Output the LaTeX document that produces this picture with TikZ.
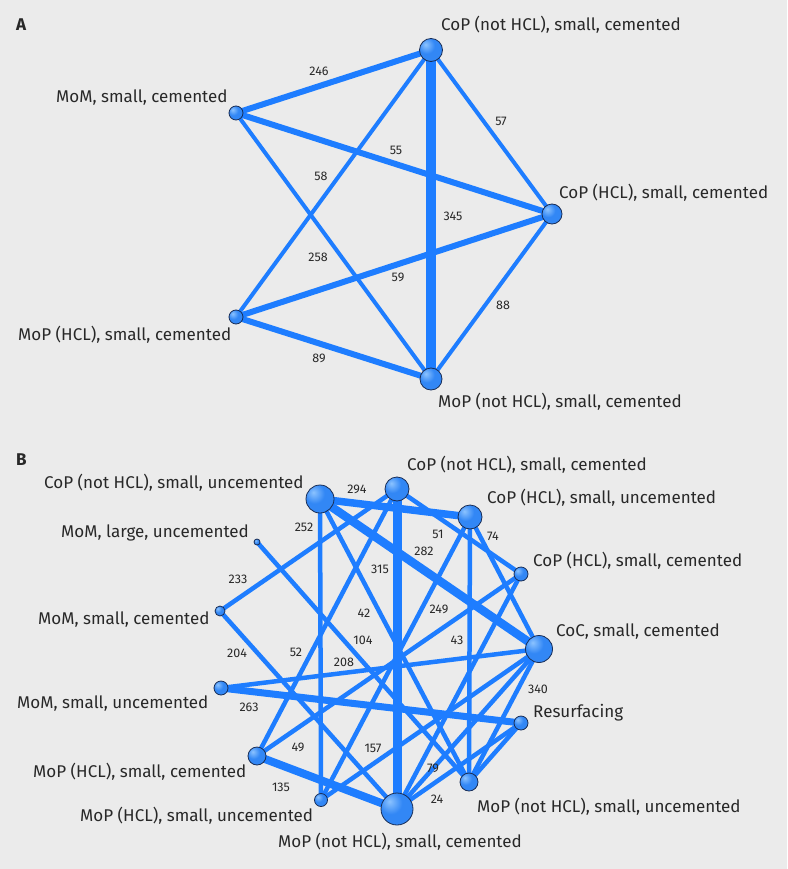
\documentclass[tikz,border=0pt]{standalone}
\usepackage{fontspec}
\setmainfont{Fira Sans}
\definecolor{bg}{RGB}{235,235,235}
\definecolor{edgeblue}{RGB}{30,125,255}
\definecolor{nodein}{RGB}{140,195,255}
\definecolor{nodeout}{RGB}{50,135,245}
\definecolor{nodedark}{RGB}{35,110,225}
\definecolor{nodeline}{RGB}{25,45,85}
\definecolor{txt}{RGB}{40,40,40}
\pgfdeclareradialshading{nodeball}{\pgfpoint{-12bp}{12bp}}{%
  color(0bp)=(nodein); color(18bp)=(nodeout); color(45bp)=(nodeout); color(70bp)=(nodedark); color(100bp)=(nodedark)}
\tikzset{
  nd/.style={circle, inner sep=0pt, minimum size=#1, shading=nodeball, draw=nodeline, line width=0.8pt},
  ed/.style={draw=edgeblue, line width=#1},
  lab/.style={font=\fontsize{17}{20}\selectfont, text=txt, inner sep=0pt, anchor=west},
  num/.style={font=\fontsize{12.5}{15}\selectfont, text=txt, inner sep=0pt},
  panel/.style={font=\bfseries\fontsize{17}{20}\selectfont, text=txt, inner sep=0pt, anchor=west},
}
\begin{document}
\begin{tikzpicture}[x=1pt,y=-1pt]
\fill[bg] (0,0) rectangle (787,869);
\useasboundingbox (0,0) rectangle (787,869);

% ---------------- Panel A ----------------
\node[panel] (pA) at (16,25) {A};
\coordinate (a1) at (431,50);
\coordinate (a2) at (236,113);
\coordinate (a3) at (552,214);
\coordinate (a4) at (236,317);
\coordinate (a5) at (431,379);
\draw[ed=6] (a2) -- (a1);
\draw[ed=6] (a2) -- (a3);
\draw[ed=4] (a2) -- (a5);
\draw[ed=4] (a4) -- (a1);
\draw[ed=6] (a4) -- (a3);
\draw[ed=6] (a4) -- (a5);
\draw[ed=4] (a1) -- (a3);
\draw[ed=10] (a1) -- (a5);
\draw[ed=4] (a3) -- (a5);
\node[nd=23] (A1) at (a1) {};
\node[nd=14] (A2) at (a2) {};
\node[nd=20] (A3) at (a3) {};
\node[nd=14] (A4) at (a4) {};
\node[nd=22] (A5) at (a5) {};
\node[lab] (tA1) at (441,25) {CoP (not HCL), small, cemented};
\node[lab] (tA2) at (56,98) {MoM, small, cemented};
\node[lab] (tA3) at (559,193) {CoP (HCL), small, cemented};
\node[lab] (tA4) at (18,335) {MoP (HCL), small, cemented};
\node[lab] (tA5) at (438,402) {MoP (not HCL), small, cemented};
\node[num] (nA1) at (319,71) {246};
\node[num] (nA2) at (501,121) {57};
\node[num] (nA3) at (396,150) {55};
\node[num] (nA4) at (321,176) {58};
\node[num] (nA5) at (453,216) {345};
\node[num] (nA6) at (318,257) {258};
\node[num] (nA7) at (398,277) {59};
\node[num] (nA8) at (503,305) {88};
\node[num] (nA9) at (319,358) {89};

% ---------------- Panel B ----------------
\node[panel] (pB) at (16,460) {B};
\coordinate (cpnhu) at (320,499);
\coordinate (cpnhc) at (397,489);
\coordinate (cphu) at (470,517);
\coordinate (cphc) at (521,574);
\coordinate (coc) at (539,649);
\coordinate (res) at (521,723);
\coordinate (mpnhu) at (469,782);
\coordinate (mpnhc) at (397,809);
\coordinate (mphu) at (321,800);
\coordinate (mphc) at (257,756);
\coordinate (mmsu) at (221,688);
\coordinate (mmsc) at (220,611);
\coordinate (mmlu) at (257,542);

\draw[ed=4.5] (cpnhu) -- (mphu);
\draw[ed=4.5] (cpnhu) -- (mpnhu);
\draw[ed=4.5] (cpnhc) -- (mmsc);
\draw[ed=4.5] (cpnhc) -- (cphc);
\draw[ed=4.5] (cpnhc) -- (mphc);
\draw[ed=4.5] (cphu) -- (mpnhu);
\draw[ed=4.5] (cphu) -- (coc);
\draw[ed=4.5] (cphu) -- (mphu);
\draw[ed=4.5] (cphc) -- (mphc);
\draw[ed=4.5] (cphc) -- (mpnhc);
\draw[ed=4.5] (coc) -- (mmsu);
\draw[ed=4.5] (coc) -- (mphu);
\draw[ed=4.5] (coc) -- (mpnhu);
\draw[ed=4.5] (coc) -- (mpnhc);
\draw[ed=4.5] (res) -- (mpnhu);
\draw[ed=4.5] (mmlu) -- (mpnhu);
\draw[ed=4.5] (mmsc) -- (mpnhc);
\draw[ed=4.5] (mpnhc) -- (res);
\draw[ed=7] (mmsu) -- (res);
\draw[ed=7.5] (cpnhu) -- (cphu);
\draw[ed=8] (mphc) -- (mpnhc);
\draw[ed=8.5] (cpnhu) -- (coc);
\draw[ed=9] (cpnhc) -- (mpnhc);

\node[nd=28] (B1) at (cpnhu) {};
\node[nd=24] (B2) at (cpnhc) {};
\node[nd=24] (B3) at (cphu) {};
\node[nd=14] (B4) at (cphc) {};
\node[nd=27] (B5) at (coc) {};
\node[nd=14] (B6) at (res) {};
\node[nd=18] (B7) at (mpnhu) {};
\node[nd=32] (B8) at (mpnhc) {};
\node[nd=13] (B9) at (mphu) {};
\node[nd=18] (B10) at (mphc) {};
\node[nd=14] (B11) at (mmsu) {};
\node[nd=10] (B12) at (mmsc) {};
\node[nd=6] (B13) at (mmlu) {};

\node[lab] (tB1) at (44,483) {CoP (not HCL), small, uncemented};
\node[lab] (tB2) at (407,465) {CoP (not HCL), small, cemented};
\node[lab] (tB3) at (487,498) {CoP (HCL), small, uncemented};
\node[lab] (tB4) at (533,561) {CoP (HCL), small, cemented};
\node[lab] (tB5) at (556,632) {CoC, small, cemented};
\node[lab] (tB6) at (533,713) {Resurfacing};
\node[lab] (tB7) at (477,807) {MoP (not HCL), small, uncemented};
\node[lab] (tB8) at (278,842) {MoP (not HCL), small, cemented};
\node[lab] (tB9) at (80,816) {MoP (HCL), small, uncemented};
\node[lab] (tB10) at (33,772) {MoP (HCL), small, cemented};
\node[lab] (tB11) at (17,704) {MoM, small, uncemented};
\node[lab] (tB12) at (38,620) {MoM, small, cemented};
\node[lab] (tB13) at (61,533) {MoM, large, uncemented};

\node[num] (nB1) at (357,489) {294};
\node[num] (nB2) at (304,527) {252};
\node[num] (nB3) at (238,579) {233};
\node[num] (nB4) at (380,569) {315};
\node[num] (nB5) at (438,534) {51};
\node[num] (nB6) at (493,536) {74};
\node[num] (nB7) at (424,551) {282};
\node[num] (nB8) at (364,613) {42};
\node[num] (nB9) at (363,640) {104};
\node[num] (nB10) at (439,609) {249};
\node[num] (nB11) at (457,640) {43};
\node[num] (nB12) at (237,653) {204};
\node[num] (nB13) at (296,652) {52};
\node[num] (nB14) at (344,662) {208};
\node[num] (nB15) at (249,707) {263};
\node[num] (nB16) at (538,689) {340};
\node[num] (nB17) at (298,747) {49};
\node[num] (nB18) at (373,748) {157};
\node[num] (nB19) at (433,768) {79};
\node[num] (nB20) at (281,787) {135};
\node[num] (nB21) at (437,799) {24};
\end{tikzpicture}
\end{document}
